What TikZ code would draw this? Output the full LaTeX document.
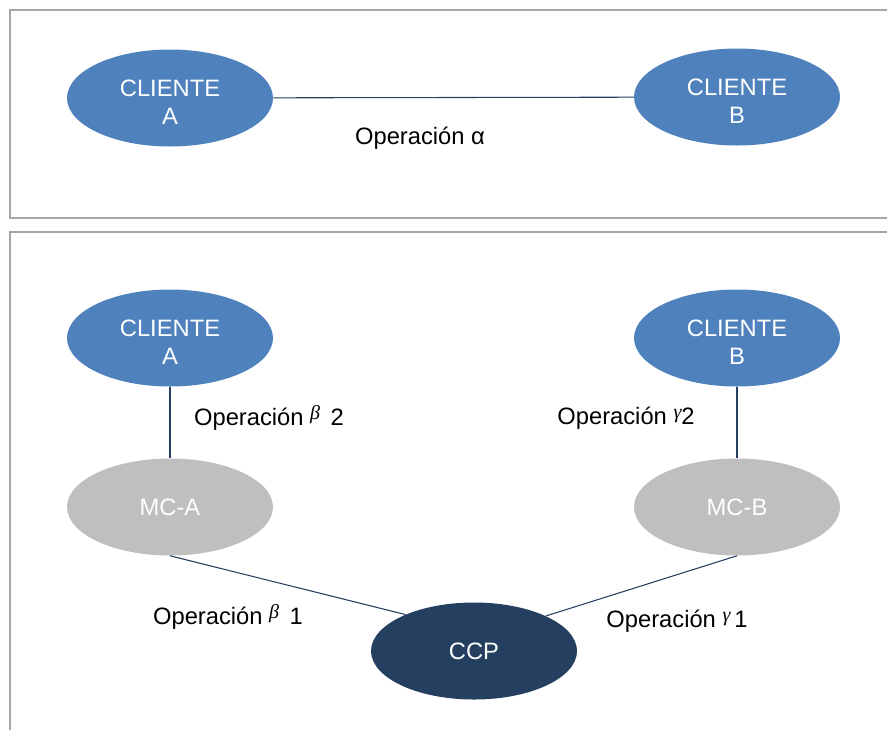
\documentclass[tikz,border=0pt]{standalone}
\usepackage{fontspec}
\setmainfont{Liberation Sans}
\newfontfamily\greekfont{Liberation Serif}
\usetikzlibrary{shapes.geometric}
\definecolor{clienteblue}{RGB}{79,129,189}
\definecolor{mcgray}{RGB}{191,191,191}
\definecolor{ccpnavy}{RGB}{36,63,96}
\definecolor{framegray}{RGB}{166,166,166}
\newcommand{\opsym}[1]{\raisebox{4pt}{\greekfont\itshape\fontsize{15}{15}\selectfont #1}}
\newcommand{\cstrut}{\rule{0pt}{18pt}}

\begin{document}
\begin{tikzpicture}[x=0.75pt, y=-0.75pt,
		every node/.style={font=\fontsize{17.8}{21}\selectfont},
		oval/.style={ellipse, minimum width=154.5pt, minimum height=72.75pt, inner sep=0pt, align=center, text=white},
		cliente/.style={oval, fill=clienteblue},
		link/.style={draw=ccpnavy, line width=0.8pt},
		frame/.style={draw=framegray, line width=1.6pt}]
			\useasboundingbox (0, 0) rectangle (887, 729);
			\draw[frame] (10, 10) rectangle (900, 218);
			\draw[frame] (10, 232) rectangle (900, 760);
			% top panel
			\node[cliente] (ca1) at (170, 98) {\cstrut CLIENTE\\A};
			\node[cliente] (cb1) at (737, 97) {\cstrut CLIENTE\\B};
			\node (opa) at (420, 138) {Operación α};
			\path[link] (ca1) edge (cb1);
			% bottom panel
			\node[cliente] (ca2) at (170, 338) {\cstrut CLIENTE\\A};
			\node[cliente] (cb2) at (737, 338) {\cstrut CLIENTE\\B};
			\node[oval, fill=mcgray] (mca) at (170, 507) {MC-A};
			\node[oval, fill=mcgray] (mcb) at (737, 507) {MC-B};
			\node[oval, fill=ccpnavy] (ccp) at (474, 651) {CCP};
			\node (opb2) at (269, 418) {Operación \opsym{β}\, 2};
			\node (opg2) at (626, 418) {Operación \opsym{γ}2};
			\node (opb1) at (228, 617) {Operación \opsym{β}\, 1};
			\node (opg1) at (677, 621) {Operación \opsym{γ}\,1};
			\path[link] (ca2) edge (mca);
			\path[link] (cb2) edge (mcb);
			\path[link] (mca.south) edge (ccp.152);
			\path[link] (mcb.south) edge (ccp.26);
		\end{tikzpicture}
\end{document}
